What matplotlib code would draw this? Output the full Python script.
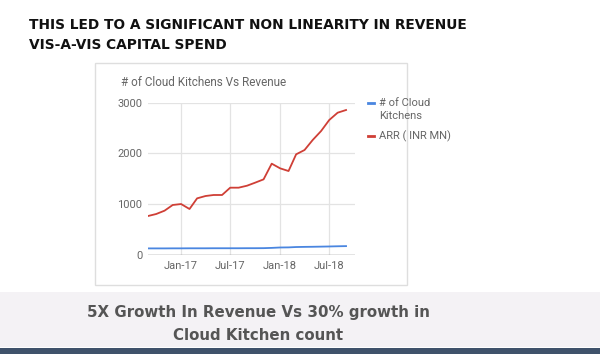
import matplotlib
matplotlib.use("Agg")
from matplotlib import pyplot as plt
from matplotlib.patches import Rectangle
import matplotlib.dates as mdates
import pandas as pd

months = pd.date_range("2016-09-01", periods=25, freq="MS")
arr_inr_mn = [768, 807, 873, 985, 1004, 906, 1116, 1162, 1182, 1182, 1326, 1326, 1365,
              1425, 1490, 1799, 1707, 1654, 1983, 2068, 2265, 2442, 2659, 2803, 2856]
kitchens = [130, 130, 130, 131, 131, 132, 132, 132, 133, 133, 133, 133, 134,
            134, 135, 140, 148, 150, 157, 160, 162, 165, 168, 172, 175]
tick_months = ["2017-01-01", "2017-07-01", "2018-01-01", "2018-07-01"]

W, H = 600, 354
fig = plt.figure(figsize=(6, 3.54), dpi=100)


def fx(px):
    return px / W


def fy(py):
    return 1 - py / H


# background: card and bottom band
bg = fig.add_axes([0, 0, 1, 1], zorder=0)
bg.set_xlim(0, W)
bg.set_ylim(H, 0)
bg.axis("off")
bg.add_patch(Rectangle((95, 63), 312, 222, facecolor="white", edgecolor="#dedede", lw=1))
bg.add_patch(Rectangle((0, 292), W, 55, facecolor="#f4f2f5", edgecolor="none"))
bg.add_patch(Rectangle((0, 348), W, 6, facecolor="#3f526b", edgecolor="none"))

fig.text(fx(29), fy(25), "THIS LED TO A SIGNIFICANT NON LINEARITY IN REVENUE",
         fontsize=9.9, fontweight="bold", color="#111111", va="center", ha="left")
fig.text(fx(29), fy(45), "VIS-A-VIS CAPITAL SPEND",
         fontsize=9.9, fontweight="bold", color="#111111", va="center", ha="left")

fig.text(fx(258), fy(313), "5X Growth In Revenue Vs 30% growth in",
         fontsize=10.8, fontweight="bold", color="#555555", va="center", ha="center")
fig.text(fx(258), fy(335), "Cloud Kitchen count",
         fontsize=10.8, fontweight="bold", color="#555555", va="center", ha="center")

ax = fig.add_axes([fx(148), fy(255), fx(207), (255 - 102.7) / H], zorder=2)
ax.set_facecolor("none")
l1, = ax.plot(months, kitchens, color="#4a86e0", lw=1.3)
l2, = ax.plot(months, arr_inr_mn, color="#cf3f36", lw=1.3)

ax.set_ylim(0, 3000)
ax.set_yticks([0, 1000, 2000, 3000])
ax.set_xlim(pd.Timestamp("2016-09-01"), pd.Timestamp("2018-10-04"))
ax.set_xticks([pd.Timestamp(t) for t in tick_months])
ax.xaxis.set_major_formatter(mdates.DateFormatter("%b-%y"))
ax.grid(True, color="#e3e3e3", lw=0.9)
ax.set_axisbelow(True)
for s in ax.spines.values():
    s.set_visible(False)
ax.axhline(0, color="#444444", lw=0.9, zorder=1)
ax.tick_params(length=0, labelsize=8, colors="#666666", pad=4)
for lab in ax.get_xticklabels() + ax.get_yticklabels():
    lab.set_fontfamily("Roboto")

fig.text(fx(121), fy(82), "# of Cloud Kitchens Vs Revenue", fontsize=8.5,
         color="#666666", family="Roboto", va="center", ha="left")

# legend
bg.plot([368, 374], [103, 103], color=l1.get_color(), lw=2)
bg.plot([368, 374], [136, 136], color=l2.get_color(), lw=2)
fig.text(fx(379), fy(103), "# of Cloud", fontsize=8, color="#666666", family="Roboto", va="center")
fig.text(fx(379), fy(116), "Kitchens", fontsize=8, color="#666666", family="Roboto", va="center")
fig.text(fx(379), fy(136), "ARR ( INR MN)", fontsize=8, color="#666666", family="Roboto", va="center")

fig.savefig("out.png", dpi=100)
